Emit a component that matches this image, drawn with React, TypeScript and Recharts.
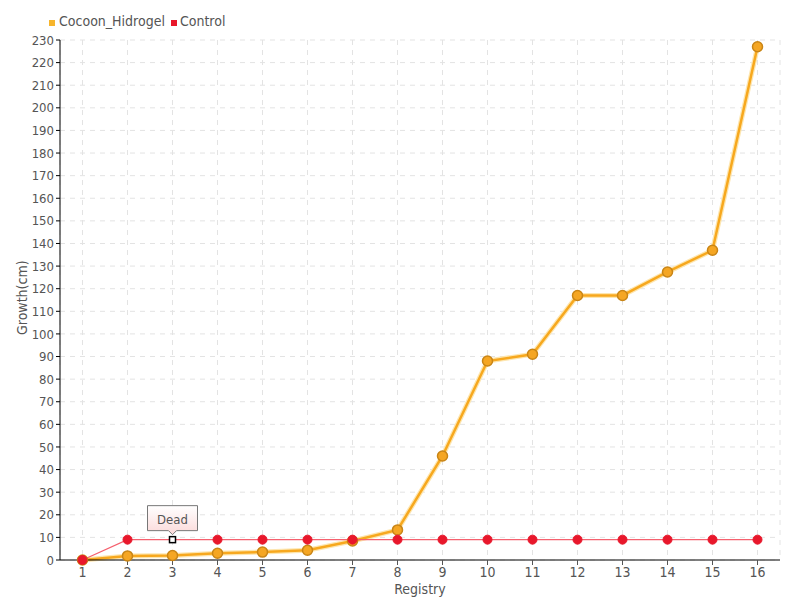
import React from 'react';
import { LineChart, Line, XAxis, YAxis, CartesianGrid } from 'recharts';

const registry = ['1','2','3','4','5','6','7','8','9','10','11','12','13','14','15','16'];
const cocoonHidrogel = [0, 1.8, 2, 3, 3.5, 4.3, 8.4, 13.3, 46, 88, 91, 117, 117, 127.4, 137, 227];
const control = [0, 9, 9, 9, 9, 9, 9, 9, 9, 9, 9, 9, 9, 9, 9, 9];
const yTicks = Array.from({ length: 24 }, (_, i) => i * 10);
const annotationIndex = 2;
const annotationText = 'Dead';

const data = registry.map((r, i) => ({ registry: r, cocoon: cocoonHidrogel[i], control: control[i] }));

const FONT = "'Liberation Sans Narrow', 'DejaVu Sans Condensed', 'Roboto', sans-serif";
const TXT = '#555';

const ControlDot = (props: any) => {
  const { cx, cy, index } = props;
  if (cx == null || cy == null) return null;
  if (index === annotationIndex) {
    return (
      <g key={`cd-${index}`}>
        <defs>
          <linearGradient id="deadGrad" x1="0" y1="0" x2="0" y2="1">
            <stop offset="0%" stopColor="#ffffff" />
            <stop offset="100%" stopColor="#fbd9d9" />
          </linearGradient>
        </defs>
        <path
          d={`M${cx - 25},${cy - 34} L${cx + 25},${cy - 34} L${cx + 25},${cy - 9} L${cx + 4},${cy - 9} L${cx},${cy - 5} L${cx - 4},${cy - 9} L${cx - 25},${cy - 9} Z`}
          fill="url(#deadGrad)"
          stroke="#777"
          strokeWidth={1}
        />
        <text x={cx} y={cy - 16} textAnchor="middle" fontFamily={FONT} fontSize={13} fill={TXT}>{annotationText}</text>
        <rect x={cx - 3} y={cy - 3} width={6} height={6} fill="#fff" stroke="#000" strokeWidth={1.5} />
      </g>
    );
  }
  return <circle key={`cd-${index}`} cx={cx} cy={cy} r={4.5} fill="#e8172b" stroke="#e8172b" />;
};

export default function App() {
  return (
    <div style={{ position: 'absolute', left: 0, top: 0, width: 800, height: 600, fontFamily: FONT }}>
      <div style={{ position: 'absolute', left: 49, top: 13, display: 'flex', alignItems: 'center', fontSize: 14, color: TXT, zIndex: 2 }}>
        <span style={{ width: 6, height: 6, background: '#f7b52c', display: 'inline-block', marginRight: 4, marginTop: 4 }} />
        <span style={{ marginRight: 6 }}>Cocoon_Hidrogel</span>
        <span style={{ width: 6, height: 6, background: '#e8172b', display: 'inline-block', marginRight: 3, marginTop: 4 }} />
        <span>Control</span>
      </div>
      <LineChart width={800} height={600} data={data} margin={{ top: 40, right: 20, bottom: 10, left: 0 }}>
        <CartesianGrid stroke="#e3e3e3" strokeDasharray="5 5" />
        <XAxis
          dataKey="registry"
          scale="band"
          stroke="#000"
          tick={{ fill: TXT, fontSize: 14, fontFamily: FONT }}
          tickLine={{ stroke: '#555' }}
          tickSize={5}
          height={30}
          label={{ value: 'Registry', position: 'insideBottom', offset: -4, fill: TXT, fontSize: 14, fontFamily: FONT }}
        />
        <YAxis
          domain={[0, 230]}
          ticks={yTicks}
          interval={0}
          width={60}
          stroke="#000"
          tick={{ fill: TXT, fontSize: 13, fontFamily: FONT }}
          tickLine={{ stroke: '#000' }}
          tickSize={4}
          label={{ value: 'Growth(cm)', angle: -90, position: 'insideLeft', offset: 22, dy: 35, fill: TXT, fontSize: 14, fontFamily: FONT }}
        />
        <Line
          dataKey="cocoon"
          stroke="#fde6b0"
          strokeWidth={5}
          dot={false}
          activeDot={false}
          isAnimationActive={false}
          legendType="none"
        />
        <Line
          dataKey="cocoon"
          stroke="#f7a81e"
          strokeWidth={2.5}
          dot={{ r: 5, fill: '#f5a623', stroke: '#c98516', strokeWidth: 1.5 }}
          isAnimationActive={false}
        />
        <Line
          dataKey="control"
          stroke="#f5606e"
          strokeWidth={1.2}
          dot={ControlDot}
          isAnimationActive={false}
        />
      </LineChart>
    </div>
  );
}
